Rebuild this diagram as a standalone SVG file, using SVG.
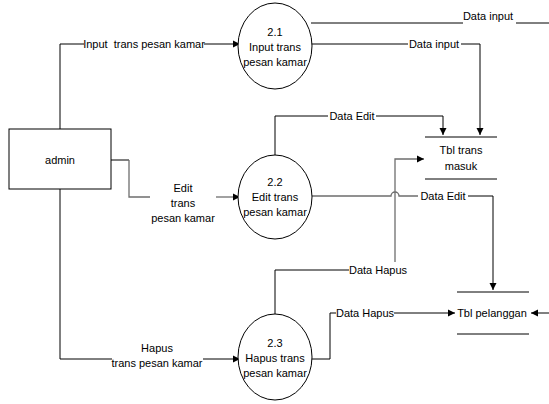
<svg xmlns="http://www.w3.org/2000/svg" width="549" height="404" viewBox="0 0 549 404">
<style>
text{font-family:"Liberation Sans",Arial,sans-serif;font-size:11px;fill:#000;text-anchor:middle}
.ln{fill:none;stroke:#000;stroke-width:1}
.g{fill:none;stroke:#6e6e6e;stroke-width:1.3}
.nd{fill:#fff;stroke:#000;stroke-width:1}
.st{stroke:#000;stroke-width:1}
</style>
<defs>
<marker id="ar" markerWidth="8" markerHeight="8" refX="7" refY="4" orient="auto" markerUnits="userSpaceOnUse">
<path d="M0,0.5 L7,4 L0,7.5 Z" fill="#000"/>
</marker>
</defs>
<rect width="549" height="404" fill="#fff"/>
<g id="connectors">
<path class="ln" d="M60,129 V44 H84"/>
<path class="ln" d="M204,44 H240" marker-end="url(#ar)"/>
<text x="144" y="48" xml:space="preserve">Input  trans pesan kamar</text>
<path class="ln" d="M311,23 H463"/>
<path class="ln" d="M516,23 H549"/>
<text x="488" y="20">Data input</text>
<path class="ln" d="M311,44 H408"/>
<path class="ln" d="M461,44 H480 V135" marker-end="url(#ar)"/>
<text x="434" y="48">Data input</text>
<path class="ln" d="M275,155 V116 H328"/>
<path class="ln" d="M376,116 H443 V135" marker-end="url(#ar)"/>
<text x="352" y="120">Data Edit</text>
<path class="g" d="M395,262 V159 H424" marker-end="url(#ar)"/>
<path class="ln" d="M275,314 V270 H349"/>
<text x="378" y="274">Data Hapus</text>
<path class="g" d="M312,196 H391 a4,4 0 0 1 8,0 H418"/>
<path class="ln" d="M468,196 H493 V290" marker-end="url(#ar)"/>
<text x="443" y="200">Data Edit</text>
<path class="ln" d="M312,359 H330 V313 H336"/>
<path class="ln" d="M394,313 H455" marker-end="url(#ar)"/>
<text x="365" y="317">Data Hapus</text>
<path class="ln" d="M549,313 H531" marker-end="url(#ar)"/>
<path class="ln" d="M111,160 H129"/>
<path class="g" d="M129,160 V197 H150"/>
<path class="g" d="M216,197 H240" marker-end="url(#ar)"/>
<text x="183" y="192">Edit</text>
<text x="183" y="207">trans</text>
<text x="183" y="222">pesan kamar</text>
<path class="ln" d="M60,189 V359 H112"/>
<path class="ln" d="M203,359 H240" marker-end="url(#ar)"/>
<text x="157" y="352">Hapus</text>
<text x="157" y="367">trans pesan kamar</text>
</g>
<g id="admin">
<rect class="nd" x="9" y="129" width="102" height="60"/>
<text x="60" y="164">admin</text>
</g>
<g id="p21">
<ellipse class="nd" cx="275" cy="46" rx="37" ry="43"/>
<text x="275" y="36">2.1</text>
<text x="275" y="51">Input trans</text>
<text x="275" y="66">pesan kamar</text>
</g>
<g id="p22">
<ellipse class="nd" cx="275" cy="197" rx="37" ry="42"/>
<text x="275" y="186">2.2</text>
<text x="275" y="201">Edit trans</text>
<text x="275" y="216">pesan kamar</text>
</g>
<g id="p23">
<ellipse class="nd" cx="275" cy="357" rx="37" ry="43"/>
<text x="275" y="347">2.3</text>
<text x="275" y="362">Hapus trans</text>
<text x="275" y="377">pesan kamar</text>
</g>
<g id="tbl-trans-masuk">
<line class="st" x1="425" y1="137" x2="497" y2="137"/>
<line class="st" x1="425" y1="179" x2="497" y2="179"/>
<text x="461" y="154">Tbl trans</text>
<text x="461" y="170">masuk</text>
</g>
<g id="tbl-pelanggan">
<line class="st" x1="457" y1="292" x2="529" y2="292"/>
<line class="st" x1="457" y1="334" x2="529" y2="334"/>
<text x="492" y="317">Tbl pelanggan</text>
</g>
</svg>
